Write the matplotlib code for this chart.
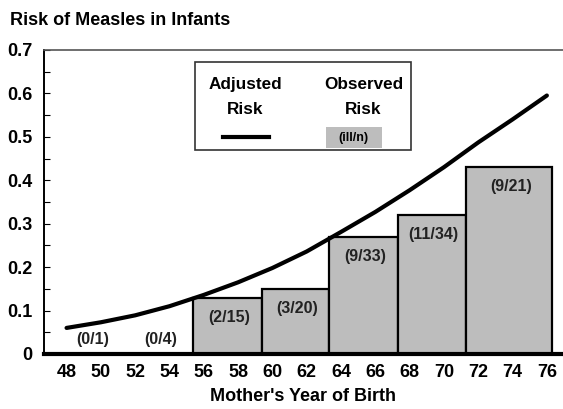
import matplotlib.pyplot as plt
import numpy as np

plt.rcParams['font.family'] = ['Liberation Sans', 'DejaVu Sans']

# observed risk per 4-year group of mother's birth year
bin_left = [47.4, 51.4, 55.4, 59.4, 63.3, 67.3, 71.3]
bin_width = [4.0, 4.0, 4.0, 3.9, 4.0, 4.0, 5.0]
observed = [0.0, 0.0, 0.13, 0.15, 0.27, 0.32, 0.43]
counts = ['(0/1)', '(0/4)', '(2/15)', '(3/20)', '(9/33)', '(11/34)', '(9/21)']

# adjusted risk curve
years = [48, 50, 52, 54, 56, 58, 60, 62, 64, 66, 68, 70, 72, 74, 76]
adjusted = [0.060, 0.073, 0.089, 0.110, 0.136, 0.165, 0.198, 0.236, 0.281,
            0.327, 0.377, 0.430, 0.487, 0.540, 0.595]

xticks = list(range(48, 77, 2))

fig = plt.figure(figsize=(5.63, 4.09), dpi=100)
ax = fig.add_axes([0.078, 0.1345, 0.922, 0.7435])

ax.bar(bin_left, observed, width=bin_width, align='edge', color='#bdbdbd',
       edgecolor='black', linewidth=1.6, zorder=2)
ax.plot(years, adjusted, color='black', lw=3, solid_capstyle='round', zorder=3)

for l, w, h, c in zip(bin_left, bin_width, observed, counts):
    yy = h - 0.045 if h > 0 else 0.033
    ax.text(l + w / 2 + 0.1, yy, c, ha='center', va='center', fontsize=11.5,
            fontweight='bold', color='#222222', zorder=4)

ax.set_xlim(46.68, 76.94)
ax.set_ylim(0, 0.7)
ax.set_xticks(xticks)
ax.set_yticks(np.arange(0, 0.71, 0.1))
ax.set_yticklabels(['0', '0.1', '0.2', '0.3', '0.4', '0.5', '0.6', '0.7'])
ax.set_yticks(np.arange(0.05, 0.7, 0.1), minor=True)
ax.tick_params(axis='y', direction='in', length=4, width=0.8, labelsize=13, pad=8)
ax.tick_params(axis='y', which='minor', direction='in', length=4, width=0.8)
ax.tick_params(axis='x', length=0, labelsize=13, pad=7)
for lab in ax.get_xticklabels() + ax.get_yticklabels():
    lab.set_fontweight('bold')

ax.spines['right'].set_visible(False)
ax.spines['top'].set_color('#555555')
ax.spines['top'].set_linewidth(1.2)
ax.spines['left'].set_linewidth(1.4)
ax.spines['bottom'].set_linewidth(3)
ax.spines['bottom'].set_zorder(5)

ax.set_xlabel("Mother's Year of Birth", fontsize=13, fontweight='bold', labelpad=5)
fig.text(0.018, 0.95, 'Risk of Measles in Infants', fontsize=13, fontweight='bold',
         va='center', ha='left')

# hand-made legend box
box = plt.Rectangle((55.48, 0.47), 12.62, 0.203, facecolor='white',
                    edgecolor='#333333', lw=1.2, zorder=6)
ax.add_patch(box)
ax.text(58.4, 0.62, 'Adjusted', ha='center', va='center', fontsize=12.3,
        fontweight='bold', zorder=7)
ax.text(58.4, 0.562, 'Risk', ha='center', va='center', fontsize=12.3,
        fontweight='bold', zorder=7)
ax.plot([57.1, 59.8], [0.50, 0.50], color='black', lw=3, zorder=7)
ax.text(65.3, 0.62, 'Observed', ha='center', va='center', fontsize=12.3,
        fontweight='bold', zorder=7)
ax.text(65.3, 0.562, 'Risk', ha='center', va='center', fontsize=12.3,
        fontweight='bold', zorder=7)
sw = plt.Rectangle((63.1, 0.474), 3.3, 0.048, facecolor='#bdbdbd',
                   edgecolor='none', zorder=7)
ax.add_patch(sw)
ax.text(64.75, 0.498, '(ill/n)', ha='center', va='center', fontsize=9,
        fontweight='bold', zorder=8)

fig.savefig('out.png', dpi=100)
